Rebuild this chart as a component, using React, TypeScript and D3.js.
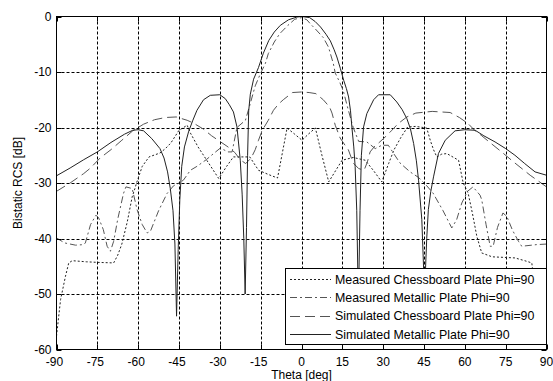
import React, { useRef, useEffect } from "react";
import * as d3 from "d3";

const X_TICKS = [-90, -75, -60, -45, -30, -15, 0, 15, 30, 45, 60, 75, 90];
const Y_TICKS = [0, -10, -20, -30, -40, -50, -60];

// Measured Chessboard Plate (dotted)
const mcTheta = [-90, -88.5, -86.7, -85.5, -84.2, -79, -75, -69, -67.5, -66, -64, -62.2, -61.2, -60.6, -58.5, -56, -52, -50, -48, -45, -42, -40.8, -38, -34, -30.4, -27.5, -25, -19, -15.8, -12, -8.8, -7, -5.3, -2.5, 0.2, 2.5, 5.1, 7.5, 10, 12.5, 14.9, 19, 23.4, 26.5, 29.5, 32, 34, 36.5, 39, 42, 46, 47.3, 48.5, 49.7, 51.5, 53.4, 57.7, 59.4, 61.2, 62.8, 64.4, 66.2, 70, 78.4, 82, 84.6, 86.4, 88, 90];
const mcDb = [-57.6, -51, -46.8, -44.4, -44, -44.2, -44.3, -44.4, -43, -41, -37, -32.5, -31, -30, -27, -25.3, -24.6, -23.8, -22.8, -20.5, -19.6, -21, -23.5, -26.5, -29.2, -27, -25.3, -25.3, -27.7, -28.5, -29.1, -24.5, -20.1, -21.2, -22.3, -21.2, -20.1, -25, -29.8, -27.8, -25.9, -25.4, -25.9, -27.8, -29.8, -26.5, -24, -21.8, -19.9, -19.8, -20.1, -22.3, -24, -25.3, -24.8, -24.7, -25.9, -30, -31.8, -35.5, -39.6, -42.6, -43.3, -43.5, -44, -44.4, -51.6, -54, -56];

// Measured Metallic Plate (dash-dot)
const mmTheta = [-90, -87, -83, -80, -79.4, -77.5, -75.5, -74.5, -72.8, -71.4, -70.2, -69, -67.5, -65.4, -64.5, -62.2, -60.4, -58.5, -56.7, -55.5, -52.5, -49.4, -47, -45, -43.4, -40.8, -38.4, -35, -32.3, -29.8, -27, -25.5, -23.7, -20.6, -19, -17, -15, -13.3, -12.2, -10, -8, -5, -2.5, 0, 2, 3.2, 5, 8, 9.9, 11.7, 12.4, 14, 15.3, 17, 19, 21, 24, 27.1, 29.5, 31.9, 34, 36.2, 39.9, 43, 46, 48.3, 52, 55.2, 57, 58.9, 61, 63, 65.6, 66.2, 67.8, 69.3, 70.4, 72, 74, 75.4, 77.5, 79.7, 80.9, 86.4, 90];
const mmDb = [-39.9, -40.8, -41.2, -41.1, -40.8, -37.5, -35.8, -36.3, -38.4, -41.4, -42.3, -40.5, -36.5, -31.9, -30.7, -31, -34.8, -37.5, -39, -38.7, -35, -31.9, -30.5, -30, -29.5, -27.7, -27, -25.8, -24.7, -23.7, -24.4, -24.4, -20, -18.7, -16, -12.5, -10.2, -8.5, -6.7, -4.6, -3.1, -1.6, -0.5, -0.2, -0.6, -1.3, -2.2, -3.8, -5.5, -8.5, -10.2, -11.8, -13.3, -16.5, -20, -22.5, -22.6, -23.8, -23.2, -23.2, -24.8, -26.4, -28, -29, -30.5, -31.8, -35, -38.1, -36.6, -33.6, -31.5, -30.7, -32.2, -33, -37.5, -41.4, -41.4, -38, -35.4, -36, -38.5, -40.5, -41.4, -41.1, -41];

// Simulated Chessboard Plate (long dash)
const scTheta = [-90, -85, -80, -77.5, -74, -70, -66, -62, -58, -54, -50, -46, -42, -39.7, -36, -33, -30, -27, -24.5, -22.5, -20.5, -18.5, -17, -15.8, -14.4, -12.2, -10.3, -8.5, -6.7, -3.3, 0, 2.8, 5.3, 8, 10.3, 11.2, 12.4, 14.2, 16, 17.2, 19, 21, 23, 24.2, 25.2, 27, 28.3, 31, 33, 35.5, 38.7, 42, 48, 54.6, 58, 61.2, 63.8, 66, 68.7, 73, 78.4, 84, 90];
const scDb = [-31.5, -30, -28.3, -27.3, -25.5, -24, -22.3, -20.6, -19.4, -18.6, -18.2, -18.1, -18.7, -19.2, -20.3, -21.5, -22.5, -23.5, -24.5, -25.8, -26.5, -25.5, -24, -22.3, -20.5, -18.7, -16.9, -15.8, -15, -13.7, -13.6, -13.7, -13.9, -15, -16.3, -17.4, -19.6, -21.9, -23.2, -24, -26.4, -27.4, -27.7, -26.2, -24.4, -23.3, -22.8, -21.6, -20.6, -19.3, -18.1, -17.4, -17.1, -17.3, -18.2, -19.3, -20.6, -21.4, -22.5, -24.2, -26.4, -28.6, -30.7];

// Simulated Metallic Plate (solid)
const smTheta = [-90, -85, -80, -75, -70, -65, -62, -60, -58, -55, -52, -50.5, -49.2, -48.2, -47.2, -46.5, -45.9, -45.3, -44.7, -44, -43, -41.5, -40, -38.4, -36, -33.5, -30, -28, -26.5, -25, -23.7, -22.5, -21.8, -21.2, -20.7, -20.2, -19.8, -19.4, -18.8, -17.6, -15.8, -14, -12, -10, -7.8, -4.8, -1.7, 0, 3, 5, 7, 9, 10.6, 12, 13, 14.3, 15.5, 16.5, 17.3, 18, 18.5, 19.2, 19.7, 20.3, 20.9, 21.5, 22, 22.8, 24, 25.2, 26.5, 28.3, 32.6, 35, 37, 38.7, 40, 41.2, 42.2, 43, 44.2, 45.2, 46, 46.6, 47.5, 48.5, 50.3, 52.8, 56.4, 60, 63.8, 67, 71.1, 75, 78.4, 82, 85.8, 90];
const smDb = [-28.7, -27.3, -25.8, -24.4, -22.7, -21.2, -20.5, -20.4, -20.6, -22, -23.8, -25.5, -28, -31, -35, -41, -54, -42, -33, -27, -23.5, -20.8, -18.8, -16.9, -15, -14.2, -14.1, -14.8, -15.9, -17.2, -19.9, -25.9, -32, -40, -50, -38, -25, -17, -14, -11.3, -9.2, -6.6, -4.3, -2.8, -1.6, -0.6, -0.1, 0, -0.2, -0.9, -1.9, -3.2, -4.4, -6, -7.3, -9.4, -11.5, -13, -14.5, -17, -19.9, -23.5, -27, -35, -52, -35, -25, -19.9, -17.5, -16.3, -15, -14.1, -14.1, -15.4, -16.8, -18.4, -20.2, -22.9, -26, -29.5, -36.6, -50, -40, -34.8, -31.5, -28.9, -24.7, -22.3, -20.6, -20.4, -20.5, -21.5, -22.6, -23.8, -25, -26.5, -28, -28.6];

const SERIES = [
  { name: "Measured Chessboard Plate Phi=90", theta: mcTheta, db: mcDb, color: "#222", dash: "2,2" },
  { name: "Measured Metallic Plate Phi=90", theta: mmTheta, db: mmDb, color: "#555", dash: "7,3,2,3" },
  { name: "Simulated Chessboard Plate Phi=90", theta: scTheta, db: scDb, color: "#555", dash: "10,5" },
  { name: "Simulated Metallic Plate Phi=90", theta: smTheta, db: smDb, color: "#222", dash: null },
];

const FONT = "'Liberation Sans', Arial, sans-serif";

const App: React.FC = () => {
  const svgRef = useRef<SVGSVGElement | null>(null);

  useEffect(() => {
    if (!svgRef.current) return;
    const W = 553;
    const H = 381;
    const svg = d3.select(svgRef.current);
    svg.selectAll("*").remove();

    const left = 56.5, right = 546.5, top = 16.5, bottom = 349.5;
    const x = d3.scaleLinear().domain([-90, 90]).range([left, right]);
    const y = d3.scaleLinear().domain([-60, 0]).range([bottom, top]);

    svg.append("rect").attr("width", W).attr("height", H).attr("fill", "#fff");

    /* grid */
    const grid = svg.append("g").attr("stroke", "#000").attr("stroke-width", 1).attr("stroke-dasharray", "3,2");
    X_TICKS.slice(1, -1).forEach((t) => {
      const px = Math.round(x(t)) + 0.5;
      grid.append("line").attr("x1", px).attr("x2", px).attr("y1", top).attr("y2", bottom);
    });
    Y_TICKS.slice(1, -1).forEach((t) => {
      const py = Math.round(y(t)) + 0.5;
      grid.append("line").attr("x1", left).attr("x2", right).attr("y1", py).attr("y2", py);
    });

    /* curves */
    svg
      .append("clipPath")
      .attr("id", "plotclip")
      .append("rect")
      .attr("x", left)
      .attr("y", top)
      .attr("width", right - left)
      .attr("height", bottom - top);

    SERIES.forEach((s) => {
      const line = d3
        .line<number>()
        .x((t) => x(t))
        .y((_, i) => y(s.db[i]));
      const path = svg
        .append("path")
        .attr("clip-path", "url(#plotclip)")
        .attr("d", line(s.theta))
        .attr("fill", "none")
        .attr("stroke", s.color)
        .attr("stroke-width", 1);
      if (s.dash) path.attr("stroke-dasharray", s.dash);
    });

    /* box + ticks */
    svg
      .append("rect")
      .attr("x", left)
      .attr("y", top)
      .attr("width", right - left)
      .attr("height", bottom - top)
      .attr("fill", "none")
      .attr("stroke", "#000");
    const ticks = svg.append("g").attr("stroke", "#000");
    X_TICKS.forEach((t) => {
      const px = Math.round(x(t)) + 0.5;
      ticks.append("line").attr("x1", px).attr("x2", px).attr("y1", bottom).attr("y2", bottom - 5);
      ticks.append("line").attr("x1", px).attr("x2", px).attr("y1", top).attr("y2", top + 5);
    });
    Y_TICKS.forEach((t) => {
      const py = Math.round(y(t)) + 0.5;
      ticks.append("line").attr("x1", left).attr("x2", left + 5).attr("y1", py).attr("y2", py);
      ticks.append("line").attr("x1", right).attr("x2", right - 5).attr("y1", py).attr("y2", py);
    });

    /* tick labels */
    const txt = svg.append("g").attr("font-family", FONT).attr("font-size", 12).attr("fill", "#000");
    Y_TICKS.forEach((t) => {
      txt
        .append("text")
        .attr("x", left - 5)
        .attr("y", y(t) + 4)
        .attr("text-anchor", "end")
        .text(`${t}`);
    });
    X_TICKS.forEach((t) => {
      txt
        .append("text")
        .attr("x", x(t) - (t < 0 ? 2 : 0))
        .attr("y", bottom + 16)
        .attr("text-anchor", "middle")
        .text(`${t}`);
    });
    txt
      .append("text")
      .attr("x", (left + right) / 2)
      .attr("y", 379)
      .attr("text-anchor", "middle")
      .text("Theta [deg]");
    txt
      .append("text")
      .attr("transform", `translate(22,${(top + bottom) / 2}) rotate(-90)`)
      .attr("text-anchor", "middle")
      .text("Bistatic RCS [dB]");

    /* legend */
    const lg = svg.append("g");
    lg.append("rect")
      .attr("x", 285.5)
      .attr("y", 268.5)
      .attr("width", 261)
      .attr("height", 76)
      .attr("fill", "#fff")
      .attr("stroke", "#000");
    SERIES.forEach((s, i) => {
      const cy = 279 + i * 18.4;
      const l = lg
        .append("line")
        .attr("x1", 290)
        .attr("x2", 331)
        .attr("y1", Math.round(cy) + 0.5)
        .attr("y2", Math.round(cy) + 0.5)
        .attr("stroke", s.color);
      if (s.dash) l.attr("stroke-dasharray", s.dash);
      lg.append("text")
        .attr("x", 335)
        .attr("y", cy + 4.5)
        .attr("font-family", FONT)
        .attr("font-size", 12.4)
        .text(s.name);
    });
  }, []);

  return (
    <div style={{ position: "absolute", left: 0, top: 0 }}>
      <svg ref={svgRef} width={553} height={381} style={{ display: "block" }} />
    </div>
  );
};

export default App;
